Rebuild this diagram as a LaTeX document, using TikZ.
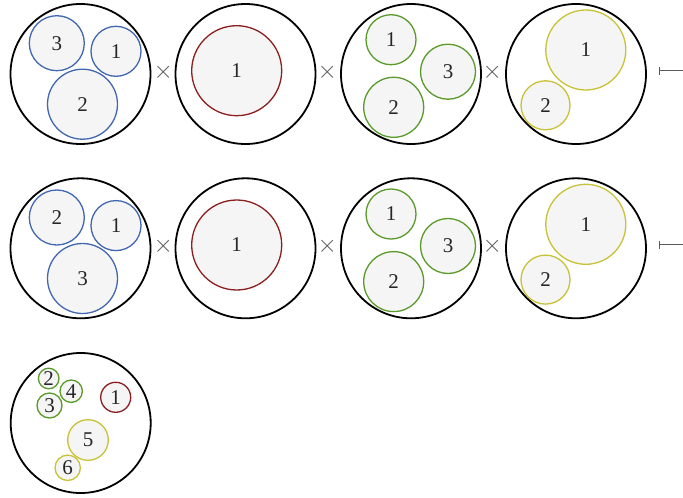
\documentclass[tikz,border=0pt]{standalone}
\usepackage{fontspec}
\setmainfont{Liberation Serif}
\definecolor{cblue}{HTML}{4267B0}
\definecolor{cred}{HTML}{8B1E1E}
\definecolor{cgreen}{HTML}{5A9A2A}
\definecolor{cyellow}{HTML}{C8C236}
\definecolor{cfill}{HTML}{F5F5F5}
\definecolor{cop}{HTML}{5A5A5A}
\begin{document}
\begin{tikzpicture}[x=1pt,y=-1pt,
  outer/.style={circle,draw=black,line width=1.8pt,minimum size=140pt,inner sep=0pt},
  inn/.style={circle,line width=1.3pt,fill=cfill,inner sep=0pt,minimum size=#1,
     font=\fontsize{21}{21}\selectfont,text=black!85},
  bl/.style={inn=#1,draw=cblue},
  rd/.style={inn=#1,draw=cred},
  gr/.style={inn=#1,draw=cgreen},
  ye/.style={inn=#1,draw=cyellow},
  op/.style={text=cop,font=\fontsize{25}{25}\selectfont,inner sep=0pt},
  mapsto/.style={draw=cop,line width=1pt}]
\useasboundingbox (0,0) rectangle (683,498);
% ---------- Row 1 ----------
\node[outer] (A1) at (80.5,74) {};
\node[bl=55pt] (a13) at (56.8,43.2) {3};
\node[bl=50pt] (a11) at (116,51.3) {1};
\node[bl=70pt] (a12) at (82.5,104.2) {2};
\node[op] (x11) at (163.3,72) {$\times$};
\node[outer] (B1) at (245.5,74) {};
\node[rd=90pt] (b11) at (236.7,70.7) {1};
\node[op] (x12) at (327.3,72) {$\times$};
\node[outer] (C1) at (411,74) {};
\node[gr=50pt] (c11) at (391,39.7) {1};
\node[gr=55pt] (c13) at (448,71.7) {3};
\node[gr=60pt] (c12) at (393.7,107.3) {2};
\node[op] (x13) at (492.3,72) {$\times$};
\node[outer] (D1) at (576,74) {};
\node[ye=80pt] (d11) at (585.8,50) {1};
\node[ye=49pt] (d12) at (545.5,105.3) {2};
\coordinate (m1a) at (659.5,70.5);
\coordinate (m1b) at (684,70.5);
\draw[mapsto] (m1a) -- (m1b);
\draw[mapsto] ([yshift=-4pt]m1a) -- ([yshift=4pt]m1a);
% ---------- Row 2 ----------
\begin{scope}[yshift=-174.3pt]
\node[outer] (A2) at (80.5,74) {};
\node[bl=55pt] (a22) at (56.8,43.2) {2};
\node[bl=50pt] (a21) at (116,51.3) {1};
\node[bl=70pt] (a23) at (82.5,104.2) {3};
\node[op] (x21) at (163.3,72) {$\times$};
\node[outer] (B2) at (245.5,74) {};
\node[rd=90pt] (b21) at (236.7,70.7) {1};
\node[op] (x22) at (327.3,72) {$\times$};
\node[outer] (C2) at (411,74) {};
\node[gr=50pt] (c21) at (391,39.7) {1};
\node[gr=55pt] (c23) at (448,71.7) {3};
\node[gr=60pt] (c22) at (393.7,107.3) {2};
\node[op] (x23) at (492.3,72) {$\times$};
\node[outer] (D2) at (576,74) {};
\node[ye=80pt] (d21) at (585.8,50) {1};
\node[ye=49pt] (d22) at (545.5,105.3) {2};
\coordinate (m2a) at (659.5,70.5);
\coordinate (m2b) at (684,70.5);
\draw[mapsto] (m2a) -- (m2b);
\draw[mapsto] ([yshift=-4pt]m2a) -- ([yshift=4pt]m2a);
\end{scope}
% ---------- Row 3 ----------
\node[outer] (R) at (80.7,423) {};
\node[gr=20.6pt] (r2) at (48.7,378.5) {2};
\node[gr=22.4pt] (r4) at (71.2,391.2) {4};
\node[gr=25pt] (r3) at (49.5,405.5) {3};
\node[rd=30pt] (r1) at (115.7,397.3) {1};
\node[ye=40.6pt] (r5) at (88,440) {5};
\node[ye=25.4pt] (r6) at (67.7,467.8) {6};
\end{tikzpicture}
\end{document}
